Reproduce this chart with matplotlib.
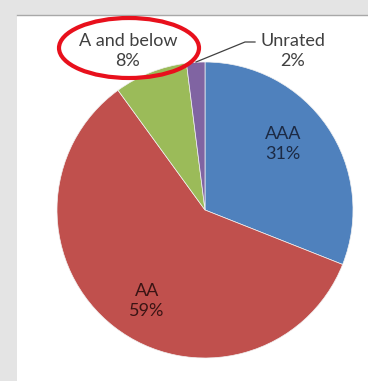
import matplotlib
matplotlib.use("Agg")
import matplotlib.pyplot as plt
from matplotlib.patches import Ellipse, Rectangle

categories = ["AAA", "AA", "A and below", "Unrated"]
shares = [31, 59, 8, 2]
colors = ["#4F81BD", "#C0504D", "#9BBB59", "#8064A2"]

W, H = 368, 381
fig = plt.figure(figsize=(W / 100, H / 100), dpi=100, facecolor="#e4e4e4")
ax = fig.add_axes([0, 0, 1, 1])

# chart area
ax.add_patch(Rectangle((17, 0), W - 17, H - 15, facecolor="white", edgecolor="none", zorder=0))
ax.plot([17, W], [H - 14.5, H - 14.5], color="#a8a8a8", lw=1, zorder=1)

cx, cy, r = 205, H - 210, 148
wedges, _ = ax.pie(shares, colors=colors, startangle=90, counterclock=False,
                   center=(cx, cy), radius=r, frame=True,
                   wedgeprops=dict(edgecolor="#f2f2f2", linewidth=0.5))
ax.set_xlim(0, W)
ax.set_ylim(0, H)
ax.set_aspect("equal")
ax.axis("off")

font = "Lato"
fs = 13
lab = dict(fontsize=fs, family=font, ha="center", va="center", linespacing=1.3)
ax.text(283, H - 144, f"{categories[0]}\n{shares[0]}%", color="#1c2a44", **lab)
ax.text(147, H - 301, f"{categories[1]}\n{shares[1]}%", color="#3a1414", **lab)
ax.text(128, H - 51, f"{categories[2]}\n{shares[2]}%", color="#404040", **lab)
ax.text(293, H - 51, f"{categories[3]}\n{shares[3]}%", color="#404040", **lab)

# leader line for Unrated
ax.plot([196, 245, 255], [H - 62, H - 42, H - 42], color="#404040", lw=0.9)

# red annotation ellipse
ax.add_patch(Ellipse((129, H - 48), 140, 60, fill=False, edgecolor="#e8101c", lw=3, zorder=5))

fig.savefig("out.png", dpi=100, facecolor=fig.get_facecolor())
